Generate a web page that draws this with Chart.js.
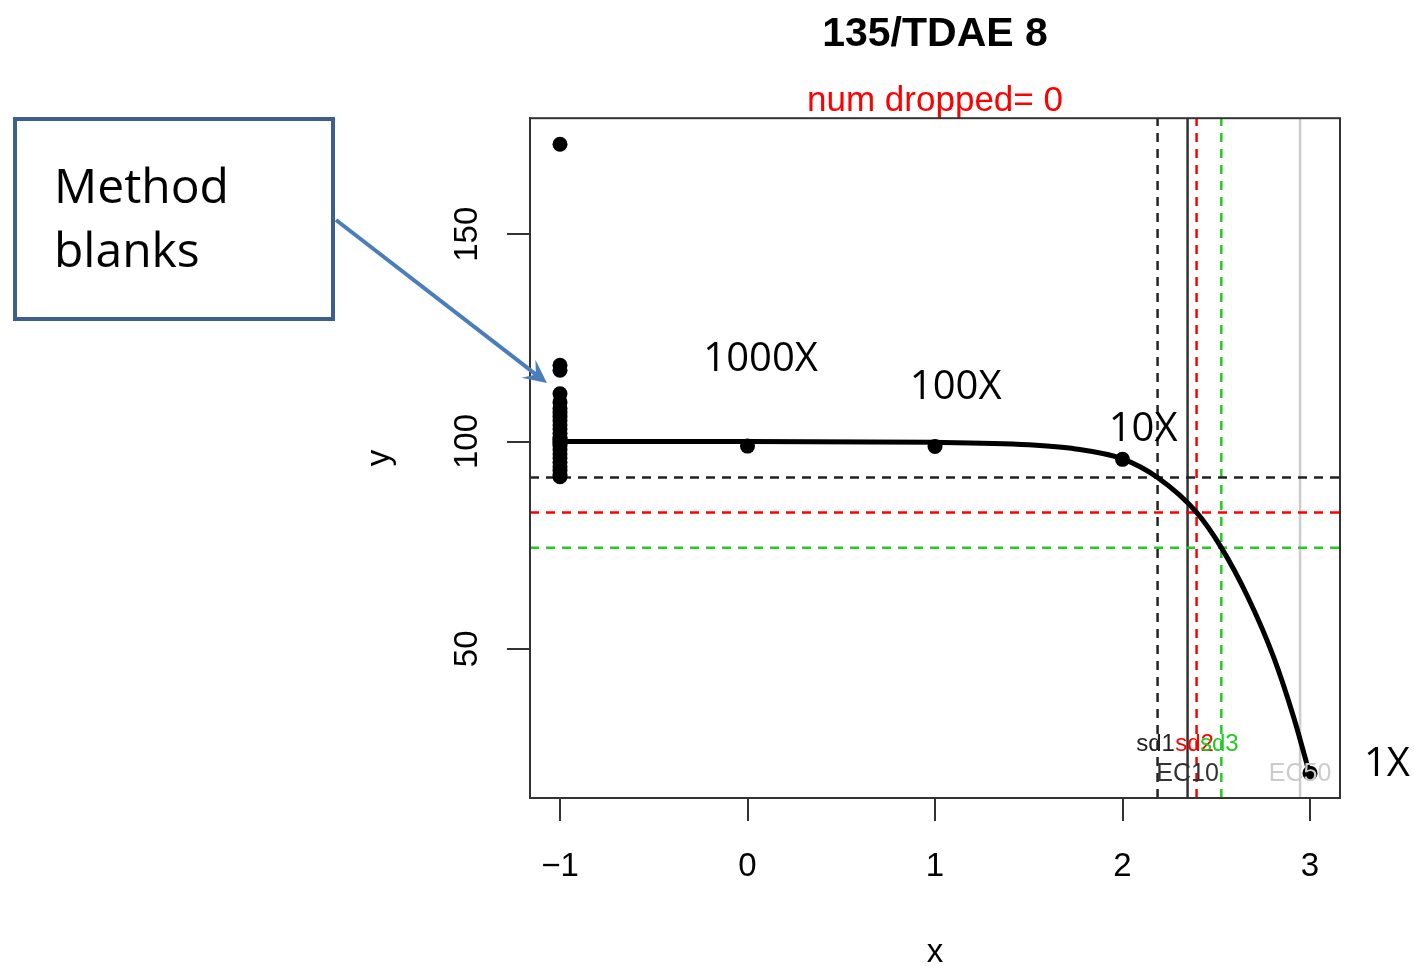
<!DOCTYPE html>
<html>
<head>
<meta charset="utf-8">
<script src="https://cdn.jsdelivr.net/npm/chart.js@4.4.1/dist/chart.umd.min.js"></script>
<style>
  body { margin: 0; background: #fff; }
</style>
</head>
<body>
<canvas id="myChart" width="1414" height="966"></canvas>
<script>
// method blanks (all at x = -1)
var blankY = [171.7, 118.4, 117.2, 111.5, 109.5, 108, 107, 106, 105, 104, 103, 102, 101, 100.5, 100,
              99.5, 99, 98, 97, 96, 95, 94, 93, 92, 91.5];
// dilution points
var doseX = [0, 1, 2, 3];
var doseY = [98.9, 98.8, 95.7, 20.0];
var doseLabels = ['1000X', '100X', '10X', '1X'];
var doseLabelX = [0.07, 1.11, 2.11, 3.41];
var doseLabelY = [119.8, 113, 102.9, 22];
// fitted curve
var curveX = [-1, 0, 1, 1.5, 1.75, 2, 2.187, 2.395, 2.527, 2.667, 2.805, 2.912, 3];
var curveY = [100, 100, 99.8, 99.2, 98.2, 95.8, 91.3, 82.9, 74.4, 62.6, 48.1, 33.6, 19.5];
// sd levels / thresholds
var sdNames = ['sd1', 'sd2', 'sd3'];
var sdLevels = [91.3, 82.9, 74.4];
var sdX = [2.187, 2.395, 2.527];
var sdColors = ['#222222', '#ff0000', '#22cc22'];
var ecNames = ['EC10', 'EC50'];
var ecX = [2.347, 2.947];
var ecColors = ['#333333', '#cccccc'];
var xRange = [-1.16, 3.16];
var yRange = [14, 178];
var xTicks = [-1, 0, 1, 2, 3];
var yTicks = [50, 100, 150];

var axisFont = 'Liberation Sans, Arial, sans-serif';

function pts(xs, ys) {
  var out = [];
  for (var i = 0; i < xs.length; i++) out.push({x: xs[i], y: ys[i]});
  return out;
}

var datasets = [];
var scatterPts = [];
for (var i = 0; i < blankY.length; i++) scatterPts.push({x: -1, y: blankY[i]});
scatterPts = scatterPts.concat(pts(doseX, doseY));
datasets.push({
  type: 'scatter', data: scatterPts, order: 0,
  pointRadius: 7.5, pointBackgroundColor: '#000', pointBorderWidth: 0, showLine: false
});
datasets.push({
  type: 'line', data: pts(curveX, curveY), order: 1,
  borderColor: '#000', borderWidth: 5, pointRadius: 0,
  cubicInterpolationMode: 'monotone', fill: false
});
for (var i = 0; i < sdLevels.length; i++) {
  datasets.push({
    type: 'line', data: pts(xRange, [sdLevels[i], sdLevels[i]]), order: 2,
    borderColor: sdColors[i], borderWidth: 2.5, borderDash: [9, 7], pointRadius: 0, fill: false
  });
  datasets.push({
    type: 'line', data: pts([sdX[i], sdX[i]], yRange), order: 2,
    borderColor: sdColors[i], borderWidth: 2.5, borderDash: [9, 7], pointRadius: 0, fill: false
  });
}
for (var i = 0; i < ecX.length; i++) {
  datasets.push({
    type: 'line', data: pts([ecX[i], ecX[i]], yRange), order: 2,
    borderColor: ecColors[i], borderWidth: 2.5, pointRadius: 0, fill: false
  });
}

var overlay = {
  id: 'overlay',
  afterDraw: function(chart) {
    var ctx = chart.ctx, a = chart.chartArea;
    var xs = chart.scales.x, ys = chart.scales.y;
    ctx.save();
    // box round the plot
    ctx.strokeStyle = '#333';
    ctx.lineWidth = 2;
    ctx.strokeRect(a.left, a.top, a.right - a.left, a.bottom - a.top);

    // sd / EC labels
    ctx.font = '24px ' + axisFont;
    ctx.textAlign = 'center';
    ctx.textBaseline = 'middle';
    for (var i = 0; i < sdNames.length; i++) {
      ctx.fillStyle = sdColors[i];
      ctx.fillText(sdNames[i], xs.getPixelForValue(sdX[i]) - 2, ys.getPixelForValue(27.0));
    }
    ctx.font = '25px ' + axisFont;
    for (var i = 0; i < ecNames.length; i++) {
      ctx.fillStyle = ecColors[i];
      ctx.fillText(ecNames[i], xs.getPixelForValue(ecX[i]), ys.getPixelForValue(19.8));
    }

    // dilution labels
    ctx.font = '40px "Open Sans", sans-serif';
    ctx.fillStyle = '#000';
    for (var i = 0; i < doseLabels.length; i++) {
      ctx.fillText(doseLabels[i], xs.getPixelForValue(doseLabelX[i]), ys.getPixelForValue(doseLabelY[i]));
    }

    // "Method blanks" callout
    ctx.strokeStyle = '#3d5f8e';
    ctx.lineWidth = 4;
    ctx.strokeRect(15, 119, 318, 200);
    ctx.font = '48px "Open Sans", sans-serif';
    ctx.textAlign = 'left';
    ctx.fillStyle = '#000';
    ctx.fillText('Method', 54, 189);
    ctx.fillText('blanks', 54, 253);

    // arrow
    var x0 = 336, y0 = 220, x1 = 547, y1 = 383;
    var ang = Math.atan2(y1 - y0, x1 - x0);
    ctx.strokeStyle = '#4a7ebb';
    ctx.fillStyle = '#4a7ebb';
    ctx.lineWidth = 4;
    ctx.beginPath();
    ctx.moveTo(x0, y0);
    ctx.lineTo(x1 - 10 * Math.cos(ang), y1 - 10 * Math.sin(ang));
    ctx.stroke();
    ctx.beginPath();
    ctx.moveTo(x1, y1);
    ctx.lineTo(x1 - 26 * Math.cos(ang - 0.45), y1 - 26 * Math.sin(ang - 0.45));
    ctx.lineTo(x1 - 14 * Math.cos(ang), y1 - 14 * Math.sin(ang));
    ctx.lineTo(x1 - 26 * Math.cos(ang + 0.45), y1 - 26 * Math.sin(ang + 0.45));
    ctx.closePath();
    ctx.fill();
    ctx.restore();
  }
};

var ctx = document.getElementById('myChart');
var myChart = new Chart(ctx, {
  data: { datasets: datasets },
  plugins: [overlay],
  options: {
    responsive: false,
    animation: false,
    devicePixelRatio: 1,
    layout: { padding: { left: 360, right: 74, top: 0, bottom: 0 } },
    plugins: {
      legend: { display: false },
      tooltip: { enabled: false },
      title: {
        display: true, text: '135/TDAE 8', color: '#000', fullSize: false,
        font: { family: axisFont, size: 41, weight: 'bold' },
        padding: { top: 10, bottom: 0 }
      },
      subtitle: {
        display: true, text: 'num dropped= 0', color: '#ff0000', fullSize: false,
        font: { family: axisFont, size: 35 },
        padding: { top: 21, bottom: -4 }
      }
    },
    scales: {
      x: {
        type: 'linear', min: xRange[0], max: xRange[1],
        afterFit: function(scale) { scale.height = 168; },
        afterBuildTicks: function(scale) {
          scale.ticks = xTicks.map(function(v) { return {value: v}; });
        },
        ticks: {
          color: '#000', padding: 26,
          font: { family: axisFont, size: 33 },
          callback: function(v) { return v < 0 ? '\u2212' + Math.abs(v) : String(v); }
        },
        grid: { drawOnChartArea: false, tickLength: 23, color: '#333', lineWidth: 2 },
        border: { display: true, color: '#333', width: 2 },
        title: {
          display: true, text: 'x', color: '#000',
          font: { family: axisFont, size: 33 }, padding: { top: 0, bottom: -7 }
        }
      },
      y: {
        type: 'linear', min: yRange[0], max: yRange[1],
        afterFit: function(scale) { scale.width = 170; },
        afterBuildTicks: function(scale) {
          scale.ticks = yTicks.map(function(v) { return {value: v}; });
        },
        ticks: {
          color: '#000', padding: 12,
          minRotation: 90, maxRotation: 90, crossAlign: 'center',
          font: { family: axisFont, size: 33 }
        },
        grid: { drawOnChartArea: false, tickLength: 23, color: '#333', lineWidth: 2 },
        border: { display: true, color: '#333', width: 2 },
        title: {
          display: true, text: 'y', color: '#000',
          font: { family: axisFont, size: 33 }, padding: { top: 0, bottom: 0 }
        }
      }
    }
  }
});
</script>
</body>
</html>
